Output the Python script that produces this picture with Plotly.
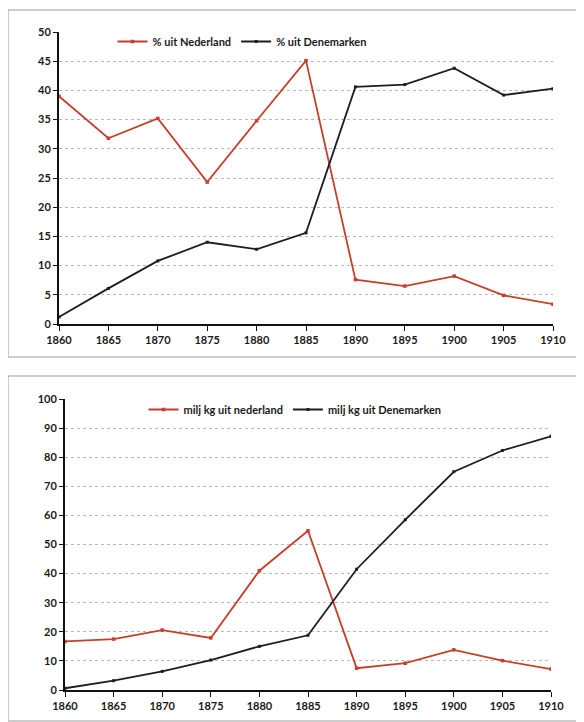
import plotly.graph_objects as go

years = [1860, 1865, 1870, 1875, 1880, 1885, 1890, 1895, 1900, 1905, 1910]

pct_nederland = [39.0, 31.8, 35.2, 24.3, 34.8, 45.1, 7.6, 6.5, 8.2, 4.9, 3.4]
pct_denemarken = [1.2, 6.1, 10.8, 14.0, 12.8, 15.6, 40.6, 41.0, 43.8, 39.2, 40.3]

kg_nederland = [16.7, 17.5, 20.6, 17.9, 41.0, 54.7, 7.5, 9.2, 13.8, 10.1, 7.2]
kg_denemarken = [0.6, 3.2, 6.4, 10.3, 15.0, 18.8, 41.5, 58.5, 75.0, 82.3, 87.2]

names_top = ["% uit Nederland", "% uit Denemarken"]
names_bottom = ["milj kg uit nederland", "milj kg uit Denemarken"]

RED = "#c4402a"
DARK = "#1c1c2a"
FONT = dict(family="Lato", size=11, color="#1a1a1a", weight="bold")

fig = go.Figure()

fig.add_trace(go.Scatter(x=years, y=pct_nederland, name=names_top[0], mode="lines+markers",
                         line=dict(color=RED, width=1.8), marker=dict(symbol="square", size=3.5, color=RED),
                         xaxis="x", yaxis="y", legend="legend"))
fig.add_trace(go.Scatter(x=years, y=pct_denemarken, name=names_top[1], mode="lines+markers",
                         line=dict(color=DARK, width=1.8), marker=dict(symbol="square", size=3, color=DARK),
                         xaxis="x", yaxis="y", legend="legend"))
fig.add_trace(go.Scatter(x=years, y=kg_nederland, name=names_bottom[0], mode="lines+markers",
                         line=dict(color=RED, width=1.8), marker=dict(symbol="square", size=3.5, color=RED),
                         xaxis="x2", yaxis="y2", legend="legend2"))
fig.add_trace(go.Scatter(x=years, y=kg_denemarken, name=names_bottom[1], mode="lines+markers",
                         line=dict(color=DARK, width=1.8), marker=dict(symbol="square", size=3, color=DARK),
                         xaxis="x2", yaxis="y2", legend="legend2"))

W, H = 584, 722
OFF = 8  # page body margin offset

def px(x):
    return (x - OFF) / W

def py(y):
    return 1 - (y - OFF) / H

xcommon = dict(tickmode="array", tickvals=years, ticks="outside", ticklen=5, tickcolor="#111",
               showline=True, linecolor="#111", linewidth=1.5, showgrid=False, zeroline=False,
               tickfont=FONT, fixedrange=True, automargin=False)
ycommon = dict(ticks="outside", ticklen=4, tickcolor="#111", showline=True, linecolor="#111",
               linewidth=2, showgrid=True, gridcolor="#b8b8b8", griddash="dot", gridwidth=1,
               zeroline=False, tickfont=FONT, fixedrange=True, automargin=False)

fig.update_layout(
    template="none",
    width=W, height=H,
    margin=dict(l=0, r=0, t=0, b=0, autoexpand=False),
    paper_bgcolor="white", plot_bgcolor="white",
    font=FONT,
    xaxis=dict(domain=[px(59), px(553)], range=[1860, 1910], anchor="y", **xcommon),
    yaxis=dict(domain=[py(324), py(32)], range=[0, 50], dtick=5, anchor="x", **ycommon),
    xaxis2=dict(domain=[px(65), px(551)], range=[1860, 1910], anchor="y2", **xcommon),
    yaxis2=dict(domain=[py(690), py(399)], range=[0, 100], dtick=10, anchor="x2", **ycommon),
    legend=dict(orientation="h", x=px(242), y=py(27), xanchor="center", yanchor="top",
                itemwidth=30, font=FONT, bgcolor="rgba(0,0,0,0)"),
    legend2=dict(orientation="h", x=px(295), y=py(395), xanchor="center", yanchor="top",
                 itemwidth=30, font=FONT, bgcolor="rgba(0,0,0,0)"),
    shapes=[
        dict(type="rect", xref="paper", yref="paper", x0=px(8), x1=px(580), y0=py(357), y1=py(10),
             line=dict(color="#9a9a9a", width=1)),
        dict(type="rect", xref="paper", yref="paper", x0=px(8), x1=px(583), y0=py(721), y1=py(376),
             line=dict(color="#9a9a9a", width=1)),
    ],
)

fig.write_html("out.html")
